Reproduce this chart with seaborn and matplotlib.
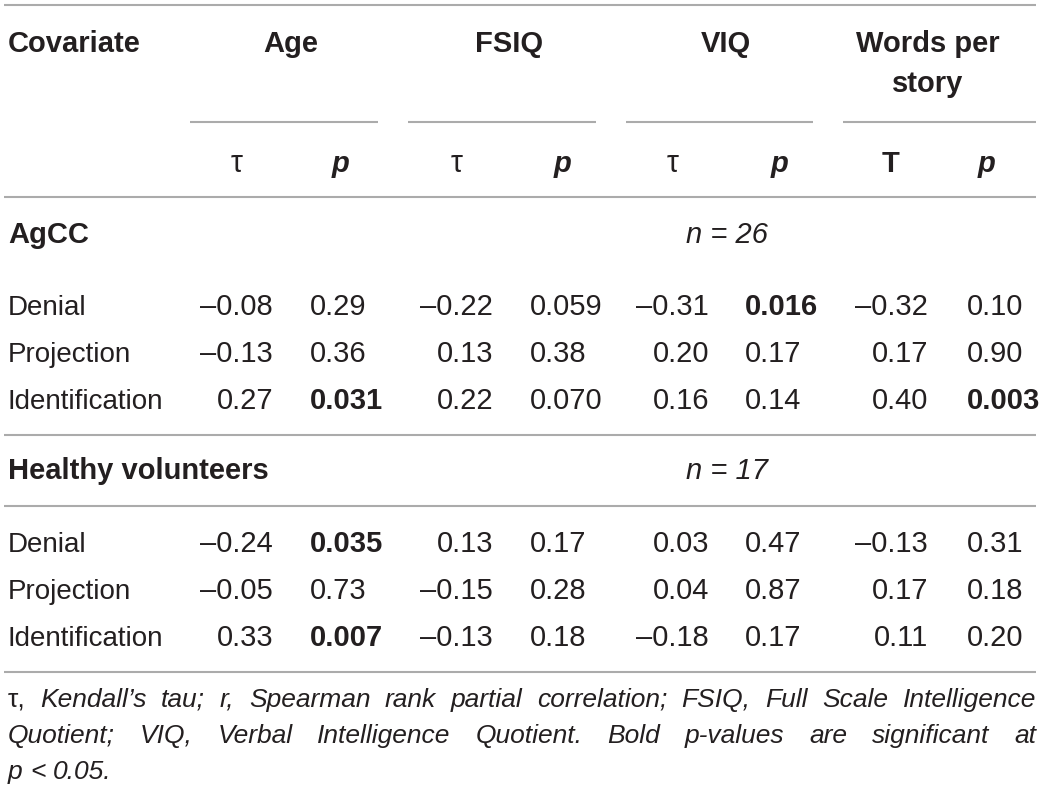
import matplotlib
matplotlib.use("Agg")
import matplotlib.pyplot as plt
import seaborn as sns

# table content
covariates = ["Age", "FSIQ", "VIQ", "Words per\nstory"]
stat_labels = ["τ", "p", "τ", "p", "τ", "p", "T", "p"]
row_labels = ["Denial", "Projection", "Identification"]
groups = ["AgCC", "Healthy volunteers"]
group_n = ["n = 26", "n = 17"]

agcc_tau = [[-0.08, -0.22, -0.31, -0.32],
            [-0.13, 0.13, 0.20, 0.17],
            [0.27, 0.22, 0.16, 0.40]]
agcc_p = [["0.29", "0.059", "0.016", "0.10"],
          ["0.36", "0.38", "0.17", "0.90"],
          ["0.031", "0.070", "0.14", "0.003"]]
hv_tau = [[-0.24, 0.13, 0.03, -0.13],
          [-0.05, -0.15, 0.04, 0.17],
          [0.33, -0.13, -0.18, 0.11]]
hv_p = [["0.035", "0.17", "0.47", "0.31"],
        ["0.73", "0.28", "0.87", "0.18"],
        ["0.007", "0.18", "0.17", "0.20"]]

footnote = [
    [("τ,", "normal"), ("Kendall’s", "italic"), ("tau;", "italic"), ("r,", "italic"),
     ("Spearman", "italic"), ("rank", "italic"), ("partial", "italic"),
     ("correlation;", "italic"), ("FSIQ,", "italic"), ("Full", "italic"),
     ("Scale", "italic"), ("Intelligence", "italic")],
    [(w, "italic") for w in "Quotient; VIQ, Verbal Intelligence Quotient. Bold p-values are significant at".split()],
    [(w, "italic") for w in "p < 0.05.".split()],
]

sns.set_theme(style="white")
plt.rcParams["font.family"] = ["Liberation Sans", "DejaVu Sans"]
INK = "#231f20"
RULE = "#ababab"

fig = plt.figure(figsize=(10.41, 7.95), dpi=100)
ax = fig.add_axes([0, 0, 1, 1])
ax.set_xlim(0, 1041)
ax.set_ylim(795, 0)
ax.axis("off")

LEFT, RIGHT = 4, 1036
FS = 20      # row labels
FS_NUM = 21  # numbers
FS_HEAD = 21

# rules
for y in [5, 197, 435, 506, 672]:
    ax.hlines(y, LEFT, RIGHT, color=RULE, lw=1.5)
for x0, x1 in [(190, 378), (408, 596), (626, 813), (843, 1036)]:
    ax.hlines(122, x0, x1, color=RULE, lw=1.5)

# header
ax.text(8, 52, "Covariate", fontsize=FS_HEAD, weight="bold", color=INK, va="baseline")
head_x = [291, 509, 726, 928]
for cx, lab in zip(head_x, covariates):
    for k, part in enumerate(lab.split("\n")):
        ax.text(cx, 52 + 40 * k, part, fontsize=FS_HEAD, weight="bold", color=INK,
                ha="center", va="baseline")

stat_x = [237, 341, 457, 563, 673, 780, 891, 987]
for sx, lab in zip(stat_x, stat_labels):
    if lab == "p":
        ax.text(sx, 172, lab, fontsize=FS_HEAD, weight="bold", style="italic", color=INK,
                ha="center", va="baseline")
    elif lab == "T":
        ax.text(sx, 172, lab, fontsize=FS_HEAD, weight="bold", color=INK,
                ha="center", va="baseline")
    else:
        ax.text(sx, 172, lab, fontsize=FS_HEAD + 1, color=INK, ha="center", va="baseline")

# body
tau_right = [273, 493, 709, 928]
p_left = [310, 530, 745, 967]
blocks = [(agcc_tau, agcc_p, 243, [315, 362, 409]),
          (hv_tau, hv_p, 479, [552, 599, 646])]

for (taus, ps, gy, row_y), gname, nlab in zip(blocks, groups, group_n):
    ax.text(8, gy, gname, fontsize=FS_HEAD, weight="bold", color=INK, va="baseline")
    ax.text(727, gy, nlab, fontsize=FS_NUM, style="italic", color=INK, ha="center",
            va="baseline")
    for ry, rlab, trow, prow in zip(row_y, row_labels, taus, ps):
        ax.text(8, ry, rlab, fontsize=FS, color=INK, va="baseline")
        for j in range(4):
            ts = f"{trow[j]:.2f}".replace("-", "–")
            ax.text(tau_right[j], ry, ts, fontsize=FS_NUM, color=INK, ha="right",
                    va="baseline")
            sig = float(prow[j]) < 0.05
            ax.text(p_left[j], ry, prow[j], fontsize=FS_NUM, color=INK, ha="left",
                    va="baseline", weight="bold" if sig else "normal")

# footnote, justified
renderer = fig.canvas.get_renderer()


def measure(words, fs):
    out = []
    for w, st in words:
        t = ax.text(0, 0, w, fontsize=fs, style=st, color=INK, va="baseline")
        out.append((t, t.get_window_extent(renderer).width))
    return out


fn_fs = 19
avail = RIGHT - 8
for _ in range(3):
    tmp = measure(footnote[0], fn_fs)
    need = sum(w for _, w in tmp) + 0.22 * fn_fs * 100 / 72 * (len(tmp) - 1)
    for t, _ in tmp:
        t.remove()
    if need <= avail:
        break
    fn_fs *= avail / need

fn_y = [707, 743, 779]
for li, (words, y) in enumerate(zip(footnote, fn_y)):
    items = measure(words, fn_fs)
    widths = [w for _, w in items]
    if li < len(footnote) - 1:
        gap = (avail - sum(widths)) / (len(items) - 1)
    else:
        gap = 0.28 * fn_fs * 100 / 72
    x = 8
    for (t, w) in items:
        t.set_position((x, y))
        x += w + gap

fig.savefig("out.png", dpi=100)
